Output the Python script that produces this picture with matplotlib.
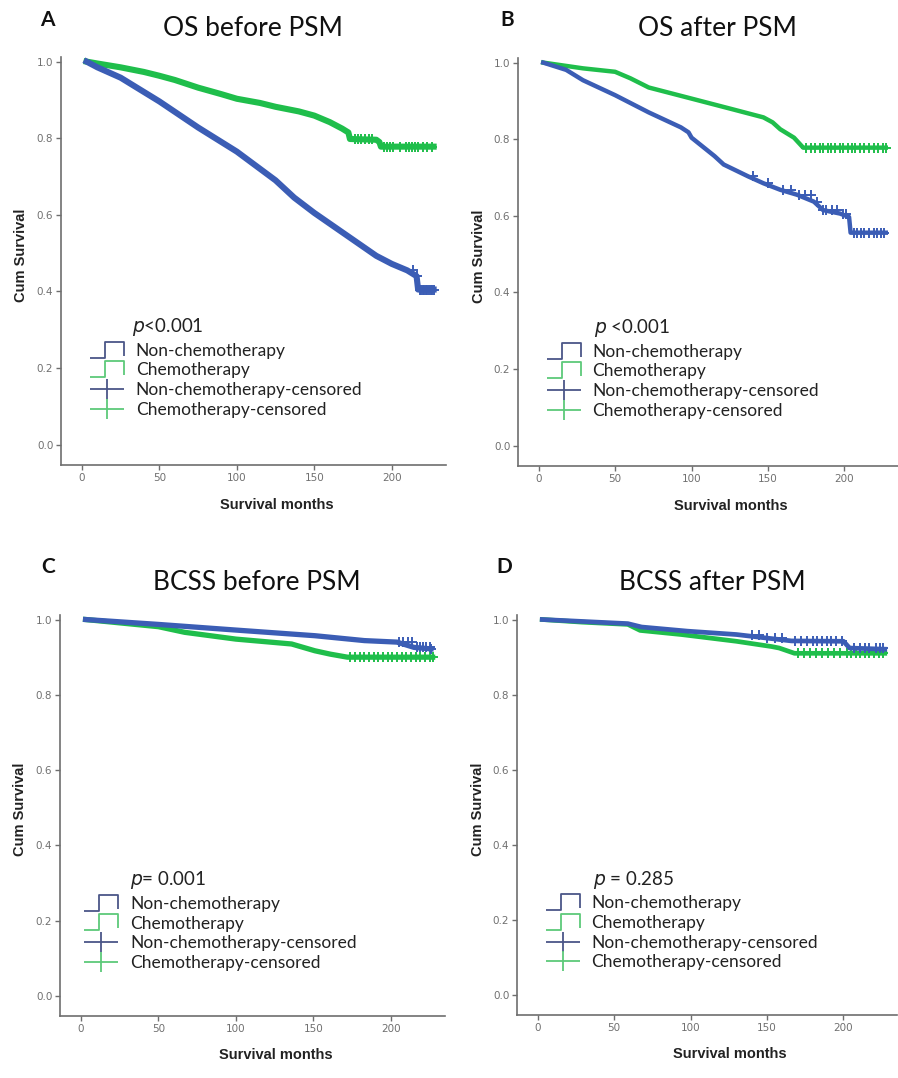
"""
Curvas de Kaplan-Meier (OS / BCSS, antes e depois do PSM)
"""

import numpy as np
import matplotlib
matplotlib.use("Agg")
import matplotlib.pyplot as plt
from matplotlib.path import Path
from matplotlib.lines import Line2D

W, H = 898, 1078

# ============================================================
# DADOS
# ============================================================
titulos = ["OS before PSM", "OS after PSM", "BCSS before PSM", "BCSS after PSM"]
letras = ["A", "B", "C", "D"]
p_textos = [r"$p$<0.001", r"$p$ <0.001", r"$p$= 0.001", r"$p$ = 0.285"]
legendas = ["Non-chemotherapy", "Chemotherapy",
            "Non-chemotherapy-censored", "Chemotherapy-censored"]
x_ticks = [0, 50, 100, 150, 200]
y_ticks = [0.0, 0.2, 0.4, 0.6, 0.8, 1.0]

# A - OS before PSM
a_nao_t = [3, 10, 25, 50, 75, 100, 125, 137, 150, 175, 190, 200, 210, 216, 217, 227]
a_nao_s = [1.0, 0.985, 0.958, 0.896, 0.828, 0.765, 0.690, 0.645, 0.605, 0.535, 0.493, 0.472, 0.455, 0.440, 0.405, 0.405]
a_nao_cens = [214, 216, 218, 219, 220, 221, 222, 223, 224, 225, 226, 227]
a_qt_t = [3, 10, 25, 40, 50, 60, 75, 90, 100, 115, 125, 140, 150, 160, 168, 172, 173, 190, 192, 193, 227]
a_qt_s = [1.0, 0.995, 0.985, 0.973, 0.963, 0.952, 0.932, 0.915, 0.903, 0.892, 0.882, 0.870, 0.859, 0.842, 0.825, 0.815, 0.798, 0.796, 0.790, 0.778, 0.778]
a_qt_cens = [176, 178, 180, 183, 185, 187, 195, 197, 199, 201, 205, 209, 211, 213, 215, 217, 220, 223, 226]

# B - OS after PSM
b_nao_t = [3, 18, 29, 50, 72, 93, 98, 100, 115, 121, 137, 147, 158, 169, 180, 186, 197, 203, 204, 227]
b_nao_s = [1.0, 0.981, 0.954, 0.915, 0.870, 0.831, 0.818, 0.804, 0.756, 0.734, 0.703, 0.685, 0.668, 0.655, 0.637, 0.615, 0.606, 0.597, 0.556, 0.556]
b_nao_cens = [140, 150, 160, 165, 170, 174, 178, 182, 186, 188, 192, 195, 199, 201, 206, 208, 211, 213, 216, 219, 221, 224, 226]
b_qt_t = [3, 29, 50, 60, 72, 100, 126, 147, 153, 158, 167, 173, 227]
b_qt_s = [1.0, 0.985, 0.976, 0.959, 0.935, 0.906, 0.879, 0.857, 0.844, 0.826, 0.804, 0.778, 0.778]
b_qt_cens = [175, 178, 181, 184, 186, 189, 191, 194, 197, 199, 202, 205, 207, 210, 213, 216, 219, 222, 225, 227]

# C - BCSS before PSM
c_nao_t = [3, 50, 100, 151, 183, 204, 215, 226]
c_nao_s = [1.0, 0.987, 0.972, 0.957, 0.944, 0.940, 0.926, 0.922]
c_nao_cens = [205, 208, 211, 214, 217, 219, 221, 223, 225, 226]
c_qt_t = [3, 50, 67, 100, 136, 151, 161, 172, 227]
c_qt_s = [1.0, 0.981, 0.966, 0.948, 0.935, 0.917, 0.908, 0.900, 0.900]
c_qt_cens = [174, 177, 180, 183, 186, 189, 192, 195, 198, 201, 204, 207, 210, 213, 216, 219, 222, 225, 227]

# D - BCSS after PSM
d_nao_t = [3, 59, 68, 98, 130, 149, 166, 200, 204, 227]
d_nao_s = [1.0, 0.989, 0.980, 0.969, 0.960, 0.951, 0.943, 0.942, 0.924, 0.921]
d_nao_cens = [140, 145, 150, 155, 160, 168, 172, 176, 180, 183, 186, 189, 192, 195, 199, 207, 211, 214, 217, 221, 224, 226]
d_qt_t = [3, 29, 59, 67, 94, 130, 153, 158, 168, 227]
d_qt_s = [1.0, 0.993, 0.987, 0.971, 0.960, 0.942, 0.928, 0.924, 0.910, 0.910]
d_qt_cens = [170, 174, 178, 182, 186, 190, 194, 198, 202, 205, 208, 211, 214, 217, 220, 223, 226]

curvas = [
    (a_nao_t, a_nao_s, a_nao_cens, a_qt_t, a_qt_s, a_qt_cens),
    (b_nao_t, b_nao_s, b_nao_cens, b_qt_t, b_qt_s, b_qt_cens),
    (c_nao_t, c_nao_s, c_nao_cens, c_qt_t, c_qt_s, c_qt_cens),
    (d_nao_t, d_nao_s, d_nao_cens, d_qt_t, d_qt_s, d_qt_cens),
]

# ============================================================
# ESTILO
# ============================================================
AZUL = "#3B5DB5"
VERDE = "#1FBE4B"
AZUL_LEG = "#4B5688"
VERDE_LEG = "#5DC97A"
CINZA = "#6E6E6E"
FONTE = "Lato"

# posicoes dos eixos em pixels: esquerda, base, largura, altura
eixos_px = [(61, 465, 385, 408), (518, 466, 380, 408),
            (60, 1016, 385, 401), (517, 1015, 380, 400)]
titulo_px = [(253, 28), (717, 28), (257, 583), (712, 582)]
letra_px = [(47, 20), (507, 20), (48, 567), (504, 567)]
legenda_x = [(0.09, 0.19), (0.09, 0.205), (0.078, 0.187), (0.09, 0.204)]
lw_curva = [4.4, 3.2, 3.8, 3.4]

# marcador em degrau para a legenda
degrau = Path([(-1, -0.45), (-0.15, -0.45), (-0.15, 0.45), (1, 0.45), (1, -0.35)],
              [Path.MOVETO, Path.LINETO, Path.LINETO, Path.LINETO, Path.LINETO])
cruz = Path([(-1, 0), (1, 0), (0, -0.62), (0, 0.62)],
            [Path.MOVETO, Path.LINETO, Path.MOVETO, Path.LINETO])


def s_em(t, s, tc):
    idx = np.searchsorted(t, tc, side="right") - 1
    return np.asarray(s)[np.clip(idx, 0, len(s) - 1)]


fig = plt.figure(figsize=(W / 100, H / 100), dpi=100)

for i in range(4):
    l, b, w, h = eixos_px[i]
    ax = fig.add_axes([l / W, 1 - b / H, w / W, h / H])
    nt, ns, nc, qt, qs, qc = curvas[i]

    ax.plot(qt, qs, color=VERDE, lw=lw_curva[i], solid_joinstyle="round", zorder=2)
    ax.plot(nt, ns, color=AZUL, lw=lw_curva[i], solid_joinstyle="round", zorder=3)
    ax.plot(qc, s_em(qt, qs, qc), ls="none", marker="+", ms=7, mew=1.4, color=VERDE, zorder=2)
    ax.plot(nc, s_em(nt, ns, nc), ls="none", marker="+", ms=7, mew=1.4, color=AZUL, zorder=3)

    ax.set_xlim(-13.5, 235)
    ax.set_ylim(-0.053, 1.012)
    ax.set_xticks(x_ticks)
    ax.set_yticks(y_ticks)
    ax.set_yticklabels([f"{v:.1f}" for v in y_ticks])
    for lado in ["top", "right"]:
        ax.spines[lado].set_visible(False)
    for lado in ["left", "bottom"]:
        ax.spines[lado].set_color(CINZA)
        ax.spines[lado].set_linewidth(1.2)
    ax.tick_params(direction="out", length=3.5, width=1, color=CINZA,
                   labelcolor="#707070", labelsize=7.5, pad=2)

    ax.set_ylabel("Cum Survival", fontsize=10.5, fontweight="bold",
                  family="Liberation Sans", color="#222222")
    ax.yaxis.set_label_coords(-0.085, 0.515)
    ax.set_xlabel("Survival months", fontsize=10.5, fontweight="bold",
                  family="Liberation Sans", color="#222222")
    ax.xaxis.set_label_coords(0.56, -0.08)

    # legenda (estilo SPSS)
    hx, tx = legenda_x[i]
    ax.text(tx - 0.005, 0.338, p_textos[i], transform=ax.transAxes, fontsize=13.5,
            family=FONTE, va="center", ha="left", color="#222222")
    handles = [
        Line2D([], [], ls="none", marker=degrau, ms=24, mew=1.3, mfc="none", color=AZUL_LEG),
        Line2D([], [], ls="none", marker=degrau, ms=24, mew=1.3, mfc="none", color=VERDE_LEG),
        Line2D([], [], ls="none", marker=cruz, ms=24, mew=1.3, color=AZUL_LEG),
        Line2D([], [], ls="none", marker=cruz, ms=24, mew=1.3, color=VERDE_LEG),
    ]
    ax.legend(handles, legendas, loc="upper left", bbox_to_anchor=(hx - 0.02, 0.30),
              frameon=False, numpoints=1, handlelength=2.2, handletextpad=0.55,
              labelspacing=0.22, borderaxespad=0, borderpad=0,
              prop={"family": FONTE, "size": 12.5}, labelcolor="#222222")

    tx_, ty_ = titulo_px[i]
    fig.text(tx_ / W, 1 - ty_ / H, titulos[i], fontsize=19, family=FONTE,
             ha="center", va="center", color="#111111")
    lx, ly = letra_px[i]
    fig.text(lx / W, 1 - ly / H, letras[i], fontsize=15, fontweight="bold",
             family=FONTE, ha="center", va="center", color="#111111")

fig.savefig("out.png", dpi=100)
